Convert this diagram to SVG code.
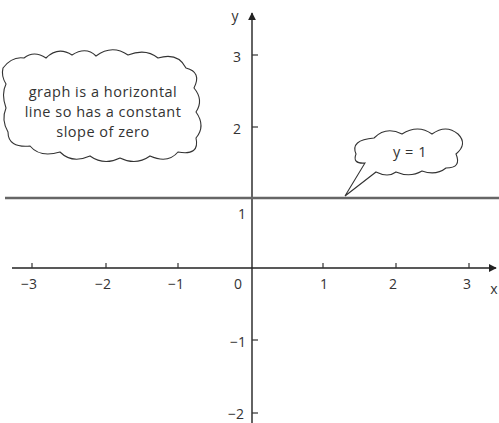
<svg xmlns="http://www.w3.org/2000/svg" width="499" height="423" viewBox="0 0 499 423">
<style>
.ax{stroke:#222;stroke-width:1.4;fill:none}
.tk{stroke:#333;stroke-width:1.2;fill:none}
.lbl{font-family:"Open Sans","DejaVu Sans",sans-serif;font-size:14px;fill:#333}
.cl{fill:#fff;stroke:#333;stroke-width:1.1}
.ct{font-family:"Open Sans","DejaVu Sans",sans-serif;font-size:14.5px;letter-spacing:0.5px;fill:#333;text-anchor:middle}
</style>
<defs>
<marker id="ah" viewBox="0 0 10 10" refX="9" refY="5" markerWidth="8" markerHeight="8" orient="auto" markerUnits="userSpaceOnUse">
<path d="M0,0 L10,5 L0,10 Z" fill="#222"/>
</marker>
</defs>
<rect width="499" height="423" fill="#fff"/>
<g id="connectors">
<line class="ax" x1="12" y1="268" x2="496" y2="268" marker-end="url(#ah)"/>
<line class="ax" x1="252" y1="423" x2="252" y2="13" marker-end="url(#ah)"/>
<line x1="5" y1="198" x2="499" y2="198" stroke="#666" stroke-width="2.4"/>
<g class="tk">
<line x1="32" y1="268" x2="32" y2="263"/>
<line x1="106" y1="268" x2="106" y2="263"/>
<line x1="178" y1="268" x2="178" y2="263"/>
<line x1="323" y1="268" x2="323" y2="263"/>
<line x1="396" y1="268" x2="396" y2="263"/>
<line x1="469" y1="268" x2="469" y2="263"/>
<line x1="252" y1="55" x2="258" y2="55"/>
<line x1="252" y1="127" x2="258" y2="127"/>
<line x1="252" y1="340" x2="258" y2="340"/>
<line x1="252" y1="413" x2="258" y2="413"/>
</g>
</g>
<g id="labels">
<text class="lbl" x="29" y="289" text-anchor="middle">−3</text>
<text class="lbl" x="103" y="289" text-anchor="middle">−2</text>
<text class="lbl" x="176" y="289" text-anchor="middle">−1</text>
<text class="lbl" x="238" y="289" text-anchor="middle">0</text>
<text class="lbl" x="324" y="289" text-anchor="middle">1</text>
<text class="lbl" x="393" y="289" text-anchor="middle">2</text>
<text class="lbl" x="467" y="289" text-anchor="middle">3</text>
<text class="lbl" x="494" y="294" text-anchor="middle">x</text>
<text class="lbl" x="235" y="21" text-anchor="middle">y</text>
<text class="lbl" x="237" y="62" text-anchor="middle">3</text>
<text class="lbl" x="237" y="134" text-anchor="middle">2</text>
<text class="lbl" x="242" y="219" text-anchor="middle">1</text>
<text class="lbl" x="238" y="347" text-anchor="middle">−1</text>
<text class="lbl" x="236" y="419" text-anchor="middle">−2</text>
</g>
<g id="cloud-note">
<path class="cl" d="M3,68 Q12,56 24,58 Q34,50 46,58 Q58,46 72,55 Q86,46 96,56 Q112,44 128,55 Q146,48 158,58 Q178,52 186,68 Q202,72 194,88 Q204,100 196,112 Q206,126 196,138 Q200,156 178,152 Q168,164 150,156 Q136,166 120,158 Q104,166 90,156 Q72,164 60,152 Q40,158 30,146 Q8,148 8,132 Q1,120 6,108 Q1,94 6,84 Q1,76 3,68 Z"/>
<text class="ct" x="103" y="97">graph is a horizontal</text>
<text class="ct" x="103" y="117">line so has a constant</text>
<text class="ct" x="103" y="137">slope of zero</text>
</g>
<g id="cloud-eq">
<path class="cl" d="M376,172 Q388,178 396,172 Q410,178 422,171 Q436,176 446,168 Q462,168 456,154 Q468,144 458,134 Q446,124 432,134 Q418,124 402,134 Q386,126 374,138 Q350,140 356,154 Q352,164 365,163 L345,196 Z"/>
<text class="ct" x="410" y="157">y = 1</text>
</g>
</svg>
